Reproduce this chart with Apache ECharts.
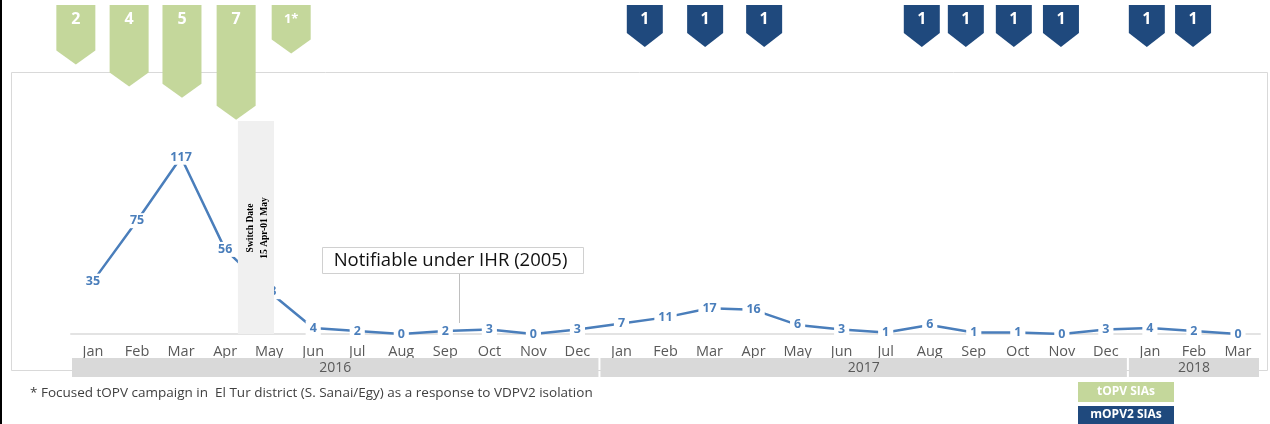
<!DOCTYPE html>
<html>
<head>
<meta charset="utf-8">
<script src="https://cdn.jsdelivr.net/npm/echarts@6/dist/echarts.min.js"></script>
<style>html,body{margin:0;padding:0;background:#fff;}#c{width:1270px;height:424px;}</style>
</head>
<body>
<div id="c"></div>
<script>
// ---- data ----
const months = ['Jan','Feb','Mar','Apr','May','Jun','Jul','Aug','Sep','Oct','Nov','Dec',
                'Jan','Feb','Mar','Apr','May','Jun','Jul','Aug','Sep','Oct','Nov','Dec',
                'Jan','Feb','Mar'];
const cases = [35,75,117,56,28,4,2,0,2,3,0,3,
               7,11,17,16,6,3,1,6,1,1,0,3,
               4,2,0];
const years = ['2016','2017','2018'];
const yearStart = [-0.5, 11.5, 23.5];
const yearEnd = [11.5, 23.5, 26.5];
// SIA campaigns: position on the month axis and number of rounds
const topvPos = [-0.39, 0.82, 2.02, 3.25, 4.5];
const topvCount = [2, 4, 5, 7, 1];
const topvLabel = ['2','4','5','7','1*'];
const mopv2Pos = [12.53, 13.9, 15.24, 18.82, 19.82, 20.91, 21.98, 23.93, 24.98];
const mopv2Count = [1,1,1,1,1,1,1,1,1];
const mopv2Label = ['1','1','1','1','1','1','1','1','1'];
// switch period (month-axis positions)
const switchStart = 3.29, switchEnd = 4.11;
const switchText = ['Switch Date', '15 Apr-01 May'];
// callout anchor
const calloutPos = [8.31, 7.3];
const calloutText = 'Notifiable under IHR (2005)';
const footnote = '* Focused tOPV campaign in  El Tur district (S. Sanai/Egy) as a response to VDPV2 isolation';

const GREEN = '#c4d79b', NAVY = '#1f497d', BLUE = '#4a7ebb';
const FONT = '"Open Sans", "Noto Sans", sans-serif';

function flagRender(color, labels, width, bodyOffset, fontSize) {
  return function (params, api) {
    const c = api.coord([api.value(0), api.value(1)]);
    const base = api.coord([api.value(0), 0]);
    const half = width / 2;
    const top = base[1] - 23.5;
    const bottom = c[1] + bodyOffset;
    const tip = bottom + 14;
    return {
      type: 'group',
      children: [
        { type: 'polygon', shape: { points: [[c[0]-half, top],[c[0]+half, top],[c[0]+half, bottom],[c[0], tip],[c[0]-half, bottom]] },
          style: { fill: color } },
        { type: 'text', x: c[0], y: top + 14,
          style: { text: labels[params.dataIndex], align: 'center', verticalAlign: 'middle', fill: '#fff',
                   font: 'bold ' + (labels[params.dataIndex].length > 1 ? 13 : fontSize) + 'px ' + FONT } }
      ]
    };
  };
}

const chart = echarts.init(document.getElementById('c'), null, { renderer: 'canvas' });
chart.setOption({
  animation: false,
  backgroundColor: '#fff',
  grid: [
    { left: 71, right: 10, top: 121, bottom: 90 },
    { left: 71, right: 10, top: 28.5, height: 110.3 }
  ],
  xAxis: [
    { type: 'category', gridIndex: 0, data: months, boundaryGap: true,
      axisLine: { show: true, lineStyle: { color: '#e3e3e3', width: 2 } },
      axisTick: { show: false },
      axisLabel: { color: '#595959', fontSize: 14.5, fontFamily: FONT, margin: 10, interval: 0 },
      splitLine: { show: false } },
    { type: 'value', gridIndex: 0, min: -0.5, max: 26.5, show: false },
    { type: 'value', gridIndex: 1, min: -0.5, max: 26.5, show: false }
  ],
  yAxis: [
    { type: 'value', gridIndex: 0, min: 0, max: 141, show: false, splitLine: { show: false } },
    { type: 'value', gridIndex: 1, min: 0, max: 10, inverse: true, show: false, splitLine: { show: false } }
  ],
  graphic: [
    { type: 'rect', shape: { x: 11.5, y: 72.5, width: 1256, height: 298 }, style: { fill: 'none', stroke: '#d9d9d9', lineWidth: 1 }, z: 0 },
    { type: 'rect', shape: { x: 0, y: 0, width: 2, height: 424 }, style: { fill: '#000' }, z: 0 },
    { type: 'text', x: 30, y: 393, style: { text: footnote, fill: '#404040', font: '13.5px ' + FONT, verticalAlign: 'middle' } },
    { type: 'rect', shape: { x: 1078, y: 382, width: 96, height: 20 }, style: { fill: GREEN } },
    { type: 'text', x: 1126, y: 392, style: { text: 'tOPV SIAs', fill: '#fff', font: 'bold 12px ' + FONT, align: 'center', verticalAlign: 'middle' } },
    { type: 'rect', shape: { x: 1078, y: 406, width: 96, height: 20 }, style: { fill: NAVY } },
    { type: 'text', x: 1126, y: 415, style: { text: 'mOPV2 SIAs', fill: '#fff', font: 'bold 12px ' + FONT, align: 'center', verticalAlign: 'middle' } }
  ],
  series: [
    { type: 'line', xAxisIndex: 0, yAxisIndex: 0, data: cases, z: 2,
      showSymbol: true, symbol: 'circle', symbolSize: 0,
      itemStyle: { color: 'rgba(0,0,0,0)', borderWidth: 0 },
      lineStyle: { color: BLUE, width: 2.5 },
      emphasis: { disabled: true },
      label: { show: true, position: 'inside', color: BLUE, fontWeight: 'bold', fontSize: 12.5, fontFamily: FONT,
               backgroundColor: '#fff', padding: [1, 4] } },
    { type: 'custom', xAxisIndex: 1, yAxisIndex: 0, z: 3, clip: false,
      data: years.map((y, i) => [yearStart[i], yearEnd[i]]),
      renderItem: function (params, api) {
        const a = api.coord([api.value(0), 0]);
        const b = api.coord([api.value(1), 0]);
        const y0 = a[1] + 24, h = 19;
        return { type: 'group', children: [
          { type: 'rect', shape: { x: a[0] + 1, y: y0, width: b[0] - a[0] - 2, height: h }, style: { fill: '#d9d9d9' } },
          { type: 'text', x: (a[0] + b[0]) / 2, y: y0 + h / 2 + 1,
            style: { text: years[params.dataIndex], fill: '#595959', font: '14px ' + FONT, align: 'center', verticalAlign: 'middle' } }
        ] };
      } },
    { type: 'custom', xAxisIndex: 1, yAxisIndex: 0, z: 5, clip: false,
      data: [[switchStart, switchEnd]],
      renderItem: function (params, api) {
        const a = api.coord([api.value(0), 141]);
        const b = api.coord([api.value(1), 0]);
        const cx = (a[0] + b[0]) / 2, cy = 228;
        return { type: 'group', children: [
          { type: 'rect', shape: { x: a[0], y: a[1], width: b[0] - a[0], height: b[1] - a[1] }, style: { fill: '#f0f0f0' } },
          { type: 'text', x: cx - 5, y: cy, rotation: Math.PI / 2,
            style: { text: switchText[0], fill: '#000', font: 'bold 9.5px "Liberation Serif", serif', align: 'center', verticalAlign: 'middle' } },
          { type: 'text', x: cx + 9, y: cy, rotation: Math.PI / 2,
            style: { text: switchText[1], fill: '#000', font: 'bold 9.5px "Liberation Serif", serif', align: 'center', verticalAlign: 'middle' } }
        ] };
      } },
    { type: 'custom', xAxisIndex: 1, yAxisIndex: 0, z: 6, clip: false,
      data: [calloutPos],
      renderItem: function (params, api) {
        const p = api.coord([api.value(0), api.value(1)]);
        const x = Math.round(p[0]) + 0.5, y = Math.round(p[1]);
        return { type: 'group', children: [
          { type: 'line', shape: { x1: x, y1: y, x2: x, y2: y - 50 }, style: { stroke: '#bfbfbf', lineWidth: 1 } },
          { type: 'rect', shape: { x: x - 137, y: y - 76 + 0.5, width: 261, height: 26 }, style: { fill: '#fff', stroke: '#d0d0d0', lineWidth: 1 } },
          { type: 'text', x: x - 9, y: y - 62.5,
            style: { text: calloutText, fill: '#111', font: '18.5px ' + FONT, align: 'center', verticalAlign: 'middle' } }
        ] };
      } },
    { type: 'custom', xAxisIndex: 2, yAxisIndex: 1, z: 4, clip: false,
      data: topvPos.map((p, i) => [p, topvCount[i]]),
      renderItem: flagRender(GREEN, topvLabel, 39, 0, 16) },
    { type: 'custom', xAxisIndex: 2, yAxisIndex: 1, z: 4, clip: false,
      data: mopv2Pos.map((p, i) => [p, mopv2Count[i]]),
      renderItem: flagRender(NAVY, mopv2Label, 36, -6.5, 16) }
  ]
});
</script>
</body>
</html>
